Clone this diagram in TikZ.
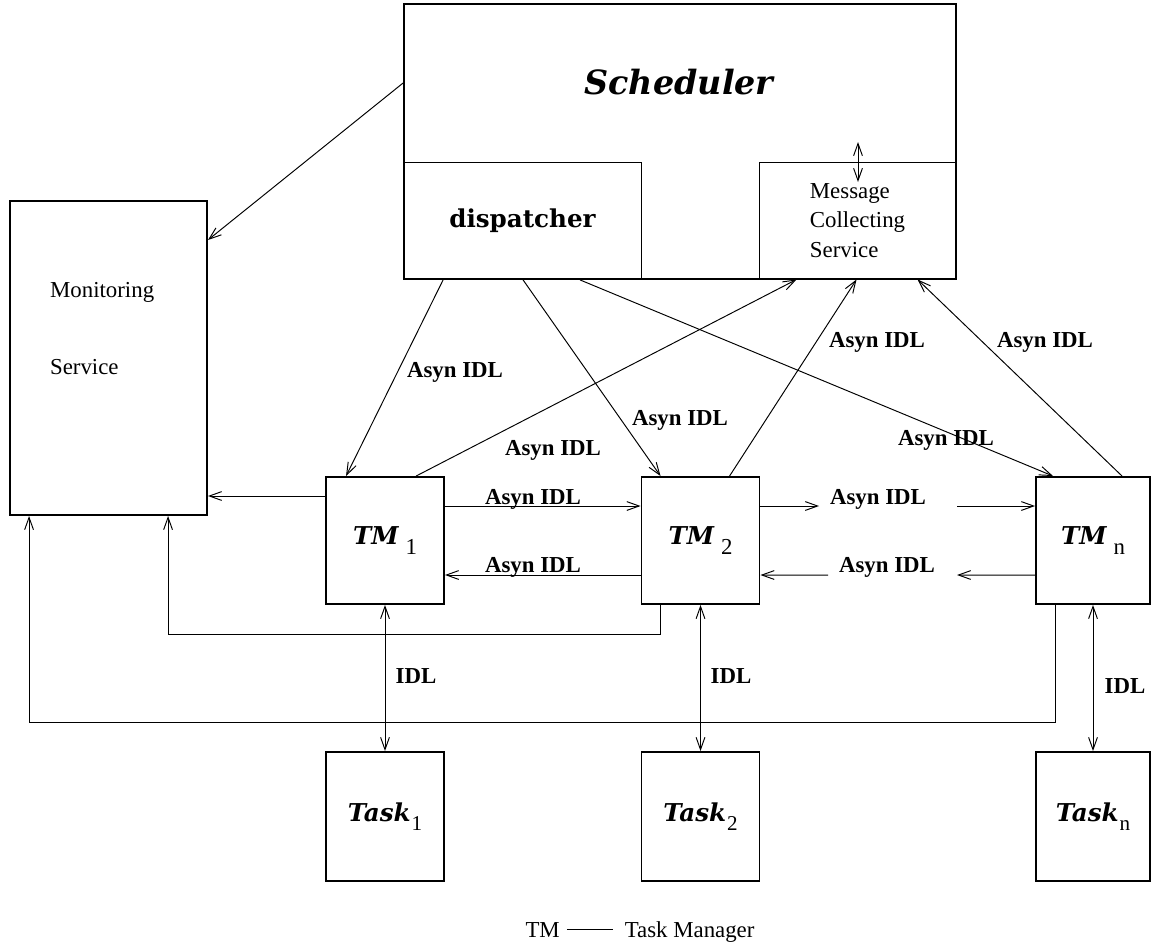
\documentclass[tikz,border=0pt]{standalone}
\usepackage{fontspec}
\setmainfont{Liberation Serif}
\newfontfamily\dvs{DejaVu Serif}
\usepackage{tikz}
\usetikzlibrary{positioning,calc,arrows.meta}
\tikzset{ln/.style={line width=0.55pt}}
\newcommand{\tmname}[1]{{\dvs\bfseries\itshape\fontsize{14}{16}\selectfont TM}\hspace{4pt}\raisebox{-5.5pt}{\fontsize{13}{15}\selectfont #1}}
\newcommand{\taskname}[1]{{\dvs\bfseries\itshape\fontsize{14}{16}\selectfont Task}\hspace{0.5pt}\raisebox{-5.5pt}{\fontsize{12}{14}\selectfont #1}}

\begin{document}
\begin{tikzpicture}[x=0.02cm,y=-0.02cm,
box/.style={rectangle, draw=black, line width=1.1pt, inner sep=0pt},
sub/.style={rectangle, draw=black, ln, inner sep=0pt},
txt/.style={font=\fontsize{13}{16.7}\selectfont, inner sep=1pt},
lab/.style={font=\fontsize{13}{15}\selectfont\bfseries, inner sep=1pt},
>={Straight Barb[length=7pt,width=5pt]},
]
\useasboundingbox (0,0) rectangle (1151,944);
% scheduler with its two parts
\node[sub, minimum width=4.74cm, minimum height=2.34cm, font=\dvs\bfseries\fontsize{14}{16}\selectfont] (D) at (522.5,220.5) {dispatcher};
\node[sub, txt, minimum width=3.94cm, minimum height=2.34cm, align=left] (MC) at (857.5,220.5) {Message\\Collecting\\Service};
\node[box, minimum width=11.04cm, minimum height=5.5cm] (S) at (680,141.5) {};
\node[font=\dvs\bfseries\itshape\fontsize{19}{22}\selectfont] (St) at (679,82) {Scheduler};
\coordinate (mc1) at (858,142);
\coordinate (mc2) at (858,182);
\draw[<->,ln] (mc1) -- (mc2);
% monitoring
\node[box, minimum width=3.94cm, minimum height=6.28cm] (M) at (108.5,358) {};
\node[txt, anchor=west] (Mt1) at (48,292) {Monitoring};
\node[txt, anchor=west] (Mt2) at (48,367) {Service};
% task managers and tasks
\node[box, minimum width=2.36cm, minimum height=2.54cm] (TM1) at (385,540.5) {\tmname{1}};
\node[box, minimum width=2.36cm, minimum height=2.54cm] (TM2) at (700.5,540.5) {\tmname{2}};
\node[box, minimum width=2.28cm, minimum height=2.54cm] (TMn) at (1093,540.5) {\tmname{n}};
\node[box, minimum width=2.36cm, minimum height=2.58cm] (T1) at (385,816.5) {\taskname{1}};
\node[box, minimum width=2.36cm, minimum height=2.58cm] (T2) at (700.5,816.5) {\taskname{2}};
\node[box, minimum width=2.28cm, minimum height=2.58cm] (Tn) at (1093,816.5) {\taskname{n}};
% dispatcher -> task managers
\draw[->,ln] ($(S.south west)+(40,0)$) -- ($(TM1.north west)+(21,0)$);
\draw[->,ln] ($(S.south west)+(120,0)$) -- ($(TM2.north west)+(20,0)$);
\draw[->,ln] ($(S.south west)+(177,0)$) -- ($(TMn.north west)+(18,0)$);
% task managers -> message collecting service
\draw[->,ln] ($(TM1.north west)+(91,0)$) -- ($(MC.south west)+(38,0)$);
\draw[->,ln] ($(TM2.north west)+(89,0)$) -- ($(MC.south west)+(98,0)$);
\draw[->,ln] ($(TMn.north west)+(87,0)$) -- ($(MC.south west)+(159,0)$);
\node[lab] (L1) at (455,372) {Asyn IDL};
\node[lab] (L2) at (680,420) {Asyn IDL};
\node[lab] (L3) at (946,440) {Asyn IDL};
\node[lab] (L4) at (553,450) {Asyn IDL};
\node[lab] (L5) at (877,342) {Asyn IDL};
\node[lab] (L6) at (1045,342) {Asyn IDL};
% between task managers
\draw[->,ln] ($(TM1.east)+(0,-34.5)$) -- ($(TM2.west)+(0,-34.5)$);
\draw[->,ln] ($(TM2.west)+(0,34.5)$) -- ($(TM1.east)+(0,34.5)$);
\node[lab] (L7) at (533,499) {Asyn IDL};
\node[lab] (L8) at (533,567) {Asyn IDL};
\coordinate (g1) at (819,506);
\coordinate (g2) at (957,506);
\coordinate (g3) at (957,575);
\coordinate (g4) at (828,575);
\draw[->,ln] ($(TM2.east)+(0,-34.5)$) -- (g1);
\draw[->,ln] (g2) -- ($(TMn.west)+(0,-34.5)$);
\draw[->,ln] ($(TMn.west)+(0,34.5)$) -- (g3);
\draw[->,ln] (g4) -- ($(TM2.east)+(0,34.5)$);
\node[lab] (L9) at (878,499) {Asyn IDL};
\node[lab] (L10) at (887,567) {Asyn IDL};
% monitoring links
\draw[->,ln] ($(S.west)+(0,-58.5)$) -- ($(M.east)+(0,-118)$);
\draw[->,ln] ($(TM1.west)+(0,-44.5)$) coordinate (p1) -- (p1 -| M.east);
\draw[->,ln] ($(TM2.south west)+(20,0)$) -- ++(0,30) -| ($(M.south west)+(159,0)$);
\draw[->,ln] ($(TMn.south west)+(20,0)$) -- ++(0,118) -| ($(M.south west)+(20,0)$);
% task managers <-> tasks
\draw[<->,ln] (TM1.south) -- (T1.north);
\draw[<->,ln] (TM2.south) -- (T2.north);
\draw[<->,ln] (TMn.south) -- (Tn.north);
\node[lab] (I1) at (416,676) {IDL};
\node[lab] (I2) at (731,676) {IDL};
\node[lab] (In) at (1125,686) {IDL};
% legend
\node[txt] (key) at (640,932) {TM\hspace{4pt}\rule[0.33em]{26pt}{0.5pt}\hspace{7pt}Task Manager};
\end{tikzpicture}
\end{document}
